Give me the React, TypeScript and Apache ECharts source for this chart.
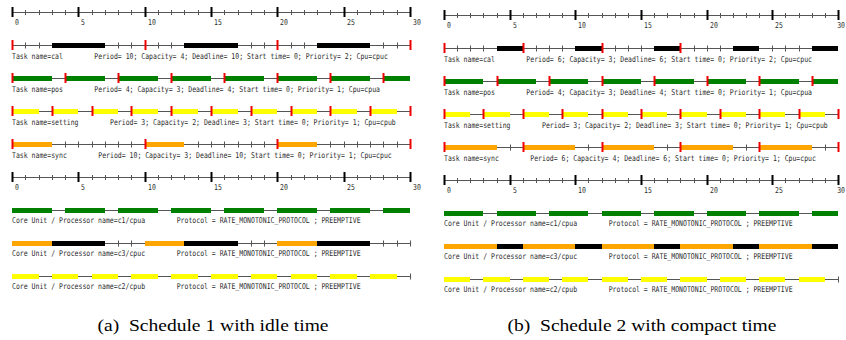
import React, { useEffect, useRef } from "react";
import * as echarts from "echarts";

// ---------- data ----------
const tickLabels = [0, 5, 10, 15, 20, 25, 30];
const taskNames = ["cal", "pos", "setting", "sync"];
const taskColors: Record<string, string> = { cal: "#000000", pos: "#008000", setting: "#ffff00", sync: "#ffa500" };
const priorities = [2, 1, 1, 1];
const taskCpus = ["cpuc", "cpua", "cpub", "cpuc"];
const procNames = ["c1/cpua", "c3/cpuc", "c2/cpub"];

// Schedule 1
const periods1 = [10, 4, 3, 10];
const capacities1 = [4, 3, 2, 3];
const deadlines1 = [10, 4, 3, 10];
const cal1 = [[3, 7], [13, 17], [23, 27]];
const pos1 = [[0, 3], [4, 7], [8, 11], [12, 15], [16, 19], [20, 23], [24, 27], [28, 30]];
const setting1 = [[0, 2], [3, 5], [6, 8], [9, 11], [12, 14], [15, 17], [18, 20], [21, 23], [24, 26], [27, 29]];
const sync1 = [[0, 3], [10, 13], [20, 23]];
const calMarks1 = [0, 10, 20, 30];
const posMarks1 = [0, 4, 8, 12, 16, 20, 24, 28];
const settingMarks1 = [0, 3, 6, 9, 12, 15, 18, 21, 24, 27, 30];
const syncMarks1 = [0, 10, 20, 30];
const cpuc1: [number, number, string][] = [[0, 3, "sync"], [3, 7, "cal"], [10, 13, "sync"], [13, 17, "cal"], [20, 23, "sync"], [23, 27, "cal"]];

// Schedule 2
const periods2 = [6, 4, 3, 6];
const capacities2 = [3, 3, 2, 4];
const deadlines2 = [6, 4, 3, 6];
const cal2 = [[4, 6], [10, 12], [16, 18], [22, 24], [28, 30]];
const pos2 = [[0, 3], [4, 7], [8, 11], [12, 15], [16, 19], [20, 23], [24, 27], [28, 30]];
const setting2 = [[0, 2], [3, 5], [6, 8], [9, 11], [12, 14], [15, 17], [18, 20], [21, 23], [24, 26], [27, 29]];
const sync2 = [[0, 4], [6, 10], [12, 16], [18, 22], [24, 28]];
const calMarks2 = [0, 6, 12, 18];
const posMarks2 = [0, 4, 8, 12, 16, 20, 24, 28];
const settingMarks2 = [0, 3, 6, 9, 12, 15, 18, 21, 24, 27, 30];
const syncMarks2 = [0, 6, 12, 18, 24, 30];
const cpuc2: [number, number, string][] = [[0, 4, "sync"], [4, 6, "cal"], [6, 10, "sync"], [10, 12, "cal"], [12, 16, "sync"], [16, 18, "cal"], [18, 22, "sync"], [22, 24, "cal"], [24, 28, "sync"], [28, 30, "cal"]];

const captions = ["(a)  Schedule 1 with idle time", "(b)  Schedule 2 with compact time"];

// ---------- styling ----------
const FONT = '8px "DejaVu Sans Mono"';
const SCALE_X = 0.814;
const CHAR_W = 8 * 0.602 * SCALE_X;
const LINE = "#555555";
const TEXT = "#2a2a2a";
const RED = "#ee0000";
const PAGE_W = 846;

type Row = {
  kind: "axis" | "task" | "proc";
  bars?: [number, number, string][];
  marks?: number[];
  left?: string;
  right?: string;
  gapChars?: number;
};

function buildRows(execs: number[][][], marks: number[][], periods: number[], caps: number[], dls: number[], cpuc: [number, number, string][]): Row[] {
  const rows: Row[] = [{ kind: "axis" }];
  taskNames.forEach((n, i) => {
    rows.push({
      kind: "task",
      bars: execs[i].map((b) => [b[0], b[1], taskColors[n]] as [number, number, string]),
      marks: marks[i],
      left: `Task name=${n}`,
      right: `Period= ${periods[i]}; Capacity= ${caps[i]}; Deadline= ${dls[i]}; Start time= 0; Priority= ${priorities[i]}; Cpu=${taskCpus[i]}`,
      gapChars: n.length + 10 + 8,
    });
  });
  rows.push({ kind: "axis" });
  const procBars = [
    execs[1].map((b) => [b[0], b[1], taskColors.pos] as [number, number, string]),
    cpuc.map((b) => [b[0], b[1], taskColors[b[2]]] as [number, number, string]),
    execs[2].map((b) => [b[0], b[1], taskColors.setting] as [number, number, string]),
  ];
  procNames.forEach((p, i) => {
    rows.push({
      kind: "proc",
      bars: procBars[i],
      left: `Core Unit / Processor name=${p}`,
      right: "Protocol = RATE_MONOTONIC_PROTOCOL ; PREEMPTIVE",
      gapChars: 42,
    });
  });
  return rows;
}

const rows1 = buildRows([cal1, pos1, setting1, sync1], [calMarks1, posMarks1, settingMarks1, syncMarks1], periods1, capacities1, deadlines1, cpuc1);
const rows2 = buildRows([cal2, pos2, setting2, sync2], [calMarks2, posMarks2, settingMarks2, syncMarks2], periods2, capacities2, deadlines2, cpuc2);

function makeRender(rows: Row[]) {
  return (params: any, api: any) => {
    const idx = params.dataIndex;
    const row = rows[idx];
    const yRaw = api.coord([0, idx])[1];
    const y = Math.round(yRaw) + 0.5;
    const X = (t: number) => Math.round(api.coord([t, idx])[0]);
    const children: any[] = [];
    const x0 = X(0);
    const x30 = X(30);
    children.push({ type: "line", shape: { x1: x0, y1: y, x2: x30, y2: y }, style: { stroke: LINE, lineWidth: 1 } });
    const bars = row.bars || [];
    const covered = (t: number) => bars.some((b) => t >= b[0] && t <= b[1]);
    for (let t = 0; t <= 30; t++) {
      if (row.kind === "axis") {
        if (tickLabels.indexOf(t) >= 0) continue;
        children.push({ type: "line", shape: { x1: X(t) + 0.5, y1: y - 2.5, x2: X(t) + 0.5, y2: y + 2.5 }, style: { stroke: LINE, lineWidth: 1 } });
      } else if (!covered(t)) {
        children.push({ type: "line", shape: { x1: X(t) + 0.5, y1: y - 3, x2: X(t) + 0.5, y2: y + 3 }, style: { stroke: LINE, lineWidth: 1 } });
      }
    }
    if (row.kind === "axis") {
      tickLabels.forEach((t) => {
        const label = String(t);
        const w = label.length * CHAR_W;
        const lx = Math.min(X(t) + 3, PAGE_W - w - 1);
        children.push({ type: "rect", shape: { x: X(t) - 0.5, y: y - 5.5, width: 2, height: 10 }, style: { fill: "#000" } });
        children.push({ type: "text", x: lx, y: y + 10, scaleX: SCALE_X, style: { text: label, font: FONT, fill: TEXT, textAlign: "left", textVerticalAlign: "middle" } });
      });
    }
    bars.forEach((b) => {
      children.push({ type: "rect", shape: { x: X(b[0]), y: y - 2.5, width: X(b[1]) - X(b[0]), height: 5 }, style: { fill: b[2] } });
    });
    (row.marks || []).forEach((t) => {
      children.push({ type: "rect", shape: { x: X(t) - 0.5, y: y - 5.5, width: 2, height: 10 }, style: { fill: RED } });
    });
    if (row.left) {
      const ty = y + (row.kind === "task" ? 11 : 10);
      children.push({ type: "text", x: x0, y: ty, scaleX: SCALE_X, style: { text: row.left, font: FONT, fill: TEXT, textAlign: "left", textVerticalAlign: "middle" } });
      children.push({ type: "text", x: x0 + (row.gapChars || 0) * CHAR_W, y: ty, scaleX: SCALE_X, style: { text: row.right, font: FONT, fill: TEXT, textAlign: "left", textVerticalAlign: "middle" } });
    }
    return { type: "group", children };
  };
}

const CAP_FONT = '17px "Liberation Serif"';
const CAP_SCALE = 1.15;

const option: any = {
  animation: false,
  backgroundColor: "#ffffff",
  grid: [
    { left: 12, top: 12, width: 398, height: 264 },
    { left: 444, top: 15, width: 394, height: 264 },
  ],
  xAxis: [
    { type: "value", gridIndex: 0, min: 0, max: 30, show: false },
    { type: "value", gridIndex: 1, min: 0, max: 30, show: false },
  ],
  yAxis: [
    { type: "value", gridIndex: 0, min: 0, max: 8, inverse: true, show: false },
    { type: "value", gridIndex: 1, min: 0, max: 8, inverse: true, show: false },
  ],
  graphic: [
    { type: "text", x: 213, y: 325, scaleX: CAP_SCALE, style: { text: captions[0], font: CAP_FONT, fill: "#000", textAlign: "center", textVerticalAlign: "middle" } },
    { type: "text", x: 642, y: 325, scaleX: CAP_SCALE, style: { text: captions[1], font: CAP_FONT, fill: "#000", textAlign: "center", textVerticalAlign: "middle" } },
  ],
  series: [
    { type: "custom", xAxisIndex: 0, yAxisIndex: 0, clip: false, data: rows1.map((_, i) => [0, i]), encode: { x: 0, y: 1 }, renderItem: makeRender(rows1) },
    { type: "custom", xAxisIndex: 1, yAxisIndex: 1, clip: false, data: rows2.map((_, i) => [0, i]), encode: { x: 0, y: 1 }, renderItem: makeRender(rows2) },
  ],
};

export default function App() {
  const ref = useRef<HTMLDivElement>(null);
  useEffect(() => {
    const chart = echarts.init(ref.current as HTMLDivElement, null, { renderer: "svg" });
    chart.setOption(option);
    return () => chart.dispose();
  }, []);
  return <div ref={ref} style={{ position: "fixed", left: 0, top: 0, width: 846, height: 340, background: "#fff" }} />;
}
